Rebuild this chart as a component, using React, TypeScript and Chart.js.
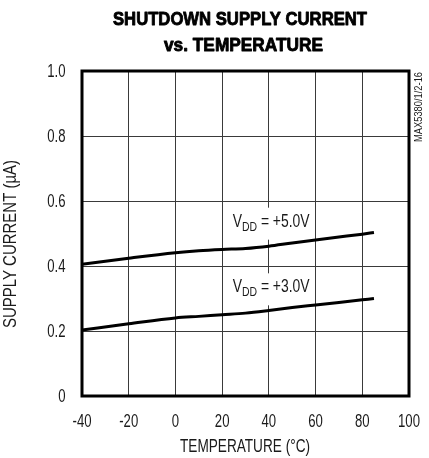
import React, { useEffect, useRef } from "react";
import { Chart, registerables } from "chart.js";

Chart.register(...registerables);

const temps5V = [-40, -20, 0, 10, 20, 30, 40, 50, 60, 70, 80, 85];
const current5V = [0.405, 0.424, 0.441, 0.447, 0.451, 0.454, 0.461, 0.471, 0.48, 0.489, 0.498, 0.503];
const temps3V = [-40, -20, 0, 10, 20, 30, 40, 50, 60, 70, 80, 85];
const current3V = [0.203, 0.222, 0.24, 0.245, 0.25, 0.255, 0.263, 0.272, 0.28, 0.288, 0.296, 0.3];

const titleLines = ["SHUTDOWN SUPPLY CURRENT", "vs. TEMPERATURE"];
const xTitle = "TEMPERATURE (°C)";
const yTitle = "SUPPLY CURRENT (µA)";
const sideNote = "MAX5380/1/2-16";
const seriesLabels = [
  { rest: " = +5.0V", t: 20, v: 0.521 },
  { rest: " = +3.0V", t: 20, v: 0.319 },
];

const FONT = '"Liberation Sans", Arial, sans-serif';
const SX = 0.73;

function drawText(
  ctx: CanvasRenderingContext2D,
  text: string,
  x: number,
  y: number,
  font: string,
  align: "left" | "center" | "right",
  baseline: CanvasTextBaseline,
  width?: number,
  stroke?: number
) {
  ctx.save();
  ctx.font = font;
  const w = ctx.measureText(text).width;
  const sx = width ? width / w : SX;
  ctx.translate(x, y);
  ctx.scale(sx, 1);
  ctx.textAlign = align;
  ctx.textBaseline = baseline;
  ctx.fillText(text, 0, 0);
  if (stroke) {
    ctx.strokeStyle = ctx.fillStyle as string;
    ctx.lineWidth = stroke;
    ctx.lineJoin = "round";
    ctx.strokeText(text, 0, 0);
  }
  ctx.restore();
}

function labelAnchor(xs: any, ys: any, lab: any) {
  return { x0: xs.getPixelForValue(lab.t) + 10.5, base: ys.getPixelForValue(lab.v) };
}

const textPlugin = {
  id: "texts",
  beforeDatasetsDraw(chart: any) {
    const { ctx, scales } = chart;
    ctx.save();
    ctx.fillStyle = "#fff";
    seriesLabels.forEach((lab) => {
      const { x0, base } = labelAnchor(scales.x, scales.y, lab);
      ctx.fillRect(x0 - 4, base - 19, 84, 32);
    });
    ctx.restore();
  },
  afterDatasetsDraw(chart: any) {
    const { ctx, chartArea, scales } = chart;
    const xs = scales.x;
    const ys = scales.y;
    ctx.save();
    ctx.fillStyle = "#1a1a1a";
    // series labels, fitted to the reference width
    seriesLabels.forEach((lab) => {
      const { x0, base } = labelAnchor(xs, ys, lab);
      ctx.save();
      ctx.font = `18px ${FONT}`;
      const wV = ctx.measureText("V").width;
      const wR = ctx.measureText(lab.rest).width;
      ctx.font = `13.5px ${FONT}`;
      const wD = ctx.measureText("DD").width;
      const sx = 77 / (wV + wD + wR);
      ctx.translate(x0, base);
      ctx.scale(sx, 1);
      ctx.textAlign = "left";
      ctx.textBaseline = "alphabetic";
      ctx.font = `18px ${FONT}`;
      ctx.fillText("V", 0, 0);
      ctx.fillText(lab.rest, wV + wD, 0);
      ctx.font = `13.5px ${FONT}`;
      ctx.fillText("DD", wV, 4);
      ctx.restore();
    });
    // tick labels
    xs.ticks.forEach((t: any) => {
      drawText(ctx, String(t.value), xs.getPixelForValue(t.value), 427, `18px ${FONT}`, "center", "alphabetic");
    });
    ys.ticks.forEach((t: any) => {
      const s = t.value === 0 ? "0" : Number(t.value).toFixed(1);
      drawText(ctx, s, 65.5, ys.getPixelForValue(t.value) + 1, `18px ${FONT}`, "right", "middle");
    });
    // border
    ctx.strokeStyle = "#000";
    ctx.lineWidth = 3;
    ctx.strokeRect(chartArea.left, chartArea.top, chartArea.right - chartArea.left, chartArea.bottom - chartArea.top);
    // title
    ctx.fillStyle = "#000";
    drawText(ctx, titleLines[0], 240, 24.5, `bold 19px ${FONT}`, "center", "alphabetic", 254, 0.9);
    drawText(ctx, titleLines[1], 243.5, 50.5, `bold 19px ${FONT}`, "center", "alphabetic", 159, 0.9);
    // x title
    ctx.fillStyle = "#1a1a1a";
    drawText(ctx, xTitle, 245, 451.5, `17.5px ${FONT}`, "center", "alphabetic", 130);
    // y title
    ctx.save();
    ctx.translate(15.5, 244);
    ctx.rotate(-Math.PI / 2);
    drawText(ctx, yTitle, 0, 0, `17.5px ${FONT}`, "center", "alphabetic", 168);
    ctx.restore();
    // side note
    ctx.save();
    ctx.translate(422, 107);
    ctx.rotate(-Math.PI / 2);
    drawText(ctx, sideNote, 0, 0, `11px ${FONT}`, "center", "alphabetic", 70);
    ctx.restore();
    ctx.restore();
  },
};

export default function App() {
  const ref = useRef<HTMLCanvasElement>(null);
  useEffect(() => {
    if (!ref.current) return;
    const chart = new Chart(ref.current, {
      type: "line",
      data: {
        datasets: [
          {
            label: "VDD = +5.0V",
            data: temps5V.map((t, i) => ({ x: t, y: current5V[i] })),
            borderColor: "#000",
            borderWidth: 3,
            pointRadius: 0,
            cubicInterpolationMode: "monotone",
          },
          {
            label: "VDD = +3.0V",
            data: temps3V.map((t, i) => ({ x: t, y: current3V[i] })),
            borderColor: "#000",
            borderWidth: 3,
            pointRadius: 0,
            cubicInterpolationMode: "monotone",
          },
        ],
      },
      options: {
        responsive: false,
        animation: false,
        layout: { padding: { top: 71, right: 20, left: 0, bottom: 0 } },
        plugins: { legend: { display: false }, tooltip: { enabled: false }, title: { display: false } },
        scales: {
          x: {
            type: "linear",
            min: -40,
            max: 100,
            grid: { color: "#3a3a3a", lineWidth: 1, drawTicks: false },
            border: { display: false },
            ticks: { stepSize: 20, display: false },
            afterFit: (s: any) => {
              s.height = 62;
            },
          },
          y: {
            min: 0,
            max: 1,
            grid: { color: "#3a3a3a", lineWidth: 1, drawTicks: false },
            border: { display: false },
            ticks: { stepSize: 0.2, display: false },
            afterFit: (s: any) => {
              s.width = 82;
            },
          },
        },
      },
      plugins: [textPlugin],
    } as any);
    return () => chart.destroy();
  }, []);
  return (
    <div style={{ position: "absolute", left: 0, top: 0, width: 429, height: 458, background: "#fff" }}>
      <canvas ref={ref} width={429} height={458} />
    </div>
  );
}
